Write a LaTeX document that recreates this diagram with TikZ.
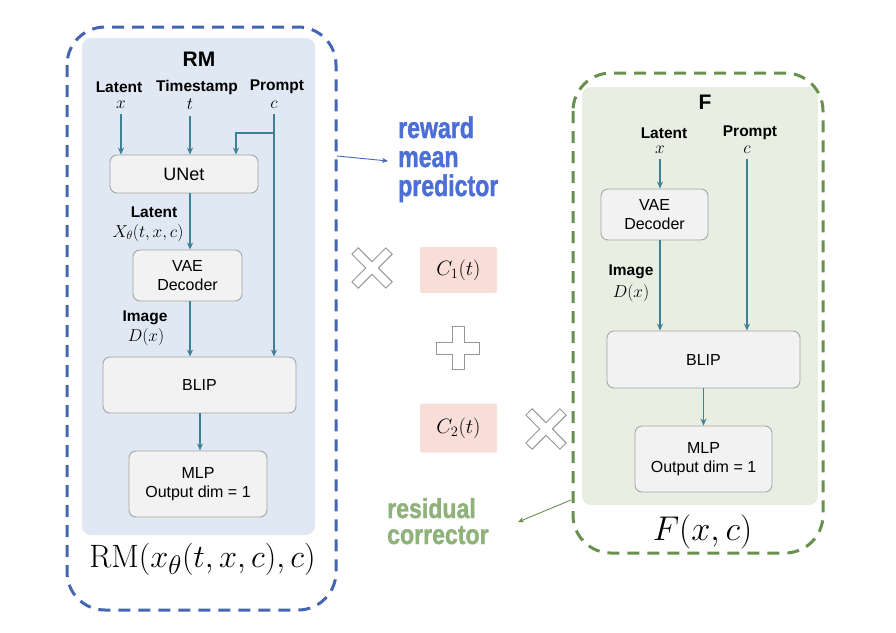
\documentclass[tikz,border=0pt]{standalone}
\usepackage[no-math]{fontspec}
\setmainfont{Liberation Sans}
\newfontfamily\heavyfont[FakeBold=1.6]{Liberation Sans}
\usetikzlibrary{arrows.meta}
\definecolor{teal1}{RGB}{62,128,148}
\definecolor{bluedash}{RGB}{68,102,176}
\definecolor{greendash}{RGB}{104,145,80}
\definecolor{bluepanel}{RGB}{223,232,243}
\definecolor{greenpanel}{RGB}{232,239,226}
\definecolor{boxfill}{RGB}{242,242,242}
\definecolor{boxdraw}{RGB}{165,165,165}
\definecolor{pinkfill}{RGB}{248,221,217}
\definecolor{bluetext}{RGB}{75,111,212}
\definecolor{greentext}{RGB}{143,178,122}
\definecolor{symgray}{RGB}{150,150,150}
\tikzset{
  blk/.style={draw=boxdraw, fill=boxfill, rounded corners=7pt, line width=0.9pt, align=center, inner sep=0pt, font=\fontsize{16}{19.5}\selectfont},
  arr/.style={draw=teal1, line width=1.3pt, -{Stealth[length=7pt,width=6pt]}},
  lbl/.style={font=\fontsize{15.5}{17}\selectfont\bfseries, inner sep=0pt},
  mth/.style={font=\fontsize{17.28}{18}\selectfont, inner sep=0pt},
  outerbox/.style={line width=3pt, dash pattern=on 12pt off 8pt, rounded corners=38pt},
  panel/.style={rounded corners=9pt, draw=none},
  pinkbox/.style={fill=pinkfill, rounded corners=2pt, inner sep=0pt, font=\fontsize{20.74}{22}\selectfont},
  sym/.style={draw=symgray, fill=white, line width=0.9pt},
  callout/.style={align=left, inner sep=0pt, anchor=base west},
}
\newcommand{\imp}[1]{\scalebox{1.05}[1.35]{#1}}
\newcommand{\impb}[1]{\scalebox{1.05}[1.25]{#1}}
\begin{document}
\begin{tikzpicture}[x=1pt,y=-1pt]
\useasboundingbox (0,0) rectangle (896,632);

% ---------- Left: RM ----------
\path[panel, fill=bluepanel] (82,38) rectangle (315,535);
\draw[outerbox, draw=bluedash] (67,27) rectangle (336,610);

\node[font=\fontsize{21}{23}\selectfont\bfseries, inner sep=0pt] (rmtitle) at (199,59) {RM};
\node[lbl] (llat) at (119,87) {Latent};
\node[lbl] (ltim) at (197,87) {Timestamp};
\node[lbl] (lpro) at (277,87) {Prompt};
\node[mth] (lx) at (121,105) {$x$};
\node[mth] (lt) at (190,104) {$t$};
\node[mth] (lc) at (274,105) {$c$};

\node[blk, minimum width=148pt, minimum height=38pt, font=\fontsize{18}{20}\selectfont] (unet) at (184,174) {UNet};
\node[blk, minimum width=109pt, minimum height=51pt] (vae) at (187.5,275.5) {VAE\\Decoder};
\node[blk, minimum width=193pt, minimum height=56pt] (blip) at (199.5,385) {BLIP};
\node[blk, minimum width=138pt, minimum height=66pt] (mlp) at (198,484) {MLP\\Output dim = 1};

\node[lbl] (latlbl) at (154,212) {Latent};
\node[mth] (xtheta) at (148,233) {$X_\theta(t,x,c)$};
\node[lbl] (imglbl) at (145,318) {Image};
\node[mth] (dx) at (146,337) {$D(x)$};

\coordinate (cbr) at (274,133);
\coordinate (ubr) at (236,133);

\draw[arr] (lx.south) ++(0,5) -- (lx |- unet.north);
\draw[arr] (lt.south) ++(0,6) -- (lt |- unet.north);
\draw[arr] (lc.south) ++(0,5) -- (lc |- blip.north);
\draw[arr] (cbr) -- (ubr) -- (ubr |- unet.north);
\draw[arr] (lt |- unet.south) -- (lt |- vae.north);
\draw[arr] (lt |- vae.south) -- (lt |- blip.north);
\draw[arr] (mlp.north |- blip.south) ++(2,0) -- ++(0,37);

\node[inner sep=0pt, anchor=base, font=\fontsize{24.88}{26}\selectfont] (rmf) at (202.5,567) {\scalebox{1.3}{$\mathrm{RM}(x_\theta(t,x,c),c)$}};

% ---------- callouts ----------
\node[callout, text=bluetext, font=\fontsize{22}{29}\selectfont\heavyfont\bfseries] (rmp) at (398,196) {\imp{reward}\\\imp{mean}\\\imp{predictor}};
\coordinate (rmpsrc) at (337,156);
\coordinate (rmptip) at (388,161);
\draw[draw=bluedash, line width=0.9pt, -{Stealth[length=6pt,width=5pt]}] (rmpsrc) -- (rmptip);

\node[callout, text=greentext, font=\fontsize{22}{26}\selectfont\heavyfont\bfseries] (resc) at (387,544) {\impb{residual}\\\impb{corrector}};
\coordinate (rcsrc) at (571,500);
\coordinate (rctip) at (518,522);
\draw[draw=greendash, line width=0.9pt, -{Stealth[length=6pt,width=5pt]}] (rcsrc) -- (rctip);

% ---------- middle symbols ----------
\begin{scope}[shift={(372,268)}, rotate=45]
  \path[sym] (4.5,24) -- (4.5,4.5) -- (24,4.5) -- (24,-4.5) -- (4.5,-4.5) -- (4.5,-24) -- (-4.5,-24) -- (-4.5,-4.5) -- (-24,-4.5) -- (-24,4.5) -- (-4.5,4.5) -- (-4.5,24) -- cycle;
\end{scope}
\begin{scope}[shift={(546,429)}, rotate=45]
  \path[sym] (4.5,24) -- (4.5,4.5) -- (24,4.5) -- (24,-4.5) -- (4.5,-4.5) -- (4.5,-24) -- (-4.5,-24) -- (-4.5,-4.5) -- (-24,-4.5) -- (-24,4.5) -- (-4.5,4.5) -- (-4.5,24) -- cycle;
\end{scope}
\begin{scope}[shift={(458,348)}]
  \path[sym] (6,21.5) -- (6,6) -- (21.5,6) -- (21.5,-6) -- (6,-6) -- (6,-21.5) -- (-6,-21.5) -- (-6,-6) -- (-21.5,-6) -- (-21.5,6) -- (-6,6) -- (-6,21.5) -- cycle;
\end{scope}

\node[pinkbox, minimum width=77pt, minimum height=46pt] (c1) at (458.5,270) {$C_1(t)$};
\node[pinkbox, minimum width=77pt, minimum height=49pt] (c2) at (458.5,428) {$C_2(t)$};

% ---------- Right: F ----------
\path[panel, fill=greenpanel] (582,87) rectangle (818,505);
\draw[outerbox, draw=greendash] (573,73) rectangle (823,553);

\node[font=\fontsize{21}{23}\selectfont\bfseries, inner sep=0pt] (ftitle) at (705,102) {F};
\node[lbl] (rlat) at (664,133) {Latent};
\node[lbl] (rpro) at (750,133) {Prompt};
\node[mth] (rx) at (660,150) {$x$};
\node[mth] (rc) at (747,150) {$c$};

\node[blk, minimum width=107pt, minimum height=51pt] (vae2) at (654.5,214.5) {VAE\\Decoder};
\node[blk, minimum width=193pt, minimum height=57pt] (blip2) at (703.5,359.5) {BLIP};
\node[blk, minimum width=137pt, minimum height=66pt] (mlp2) at (703.5,459) {MLP\\Output dim = 1};

\node[lbl] (imglbl2) at (631,272) {Image};
\node[mth] (dx2) at (631,293) {$D(x)$};

\draw[arr] (rx.south) ++(0,5) -- (rx |- vae2.north);
\draw[arr] (rx |- vae2.south) -- (rx |- blip2.north);
\draw[arr] (rc.south) ++(0,5) -- (rc |- blip2.north);
\draw[arr] (blip2.south) -- (mlp2.north);

\node[inner sep=0pt, anchor=base, font=\fontsize{24.88}{26}\selectfont] (ff) at (702.5,540) {\scalebox{1.38}{$F(x,c)$}};
\end{tikzpicture}
\end{document}
